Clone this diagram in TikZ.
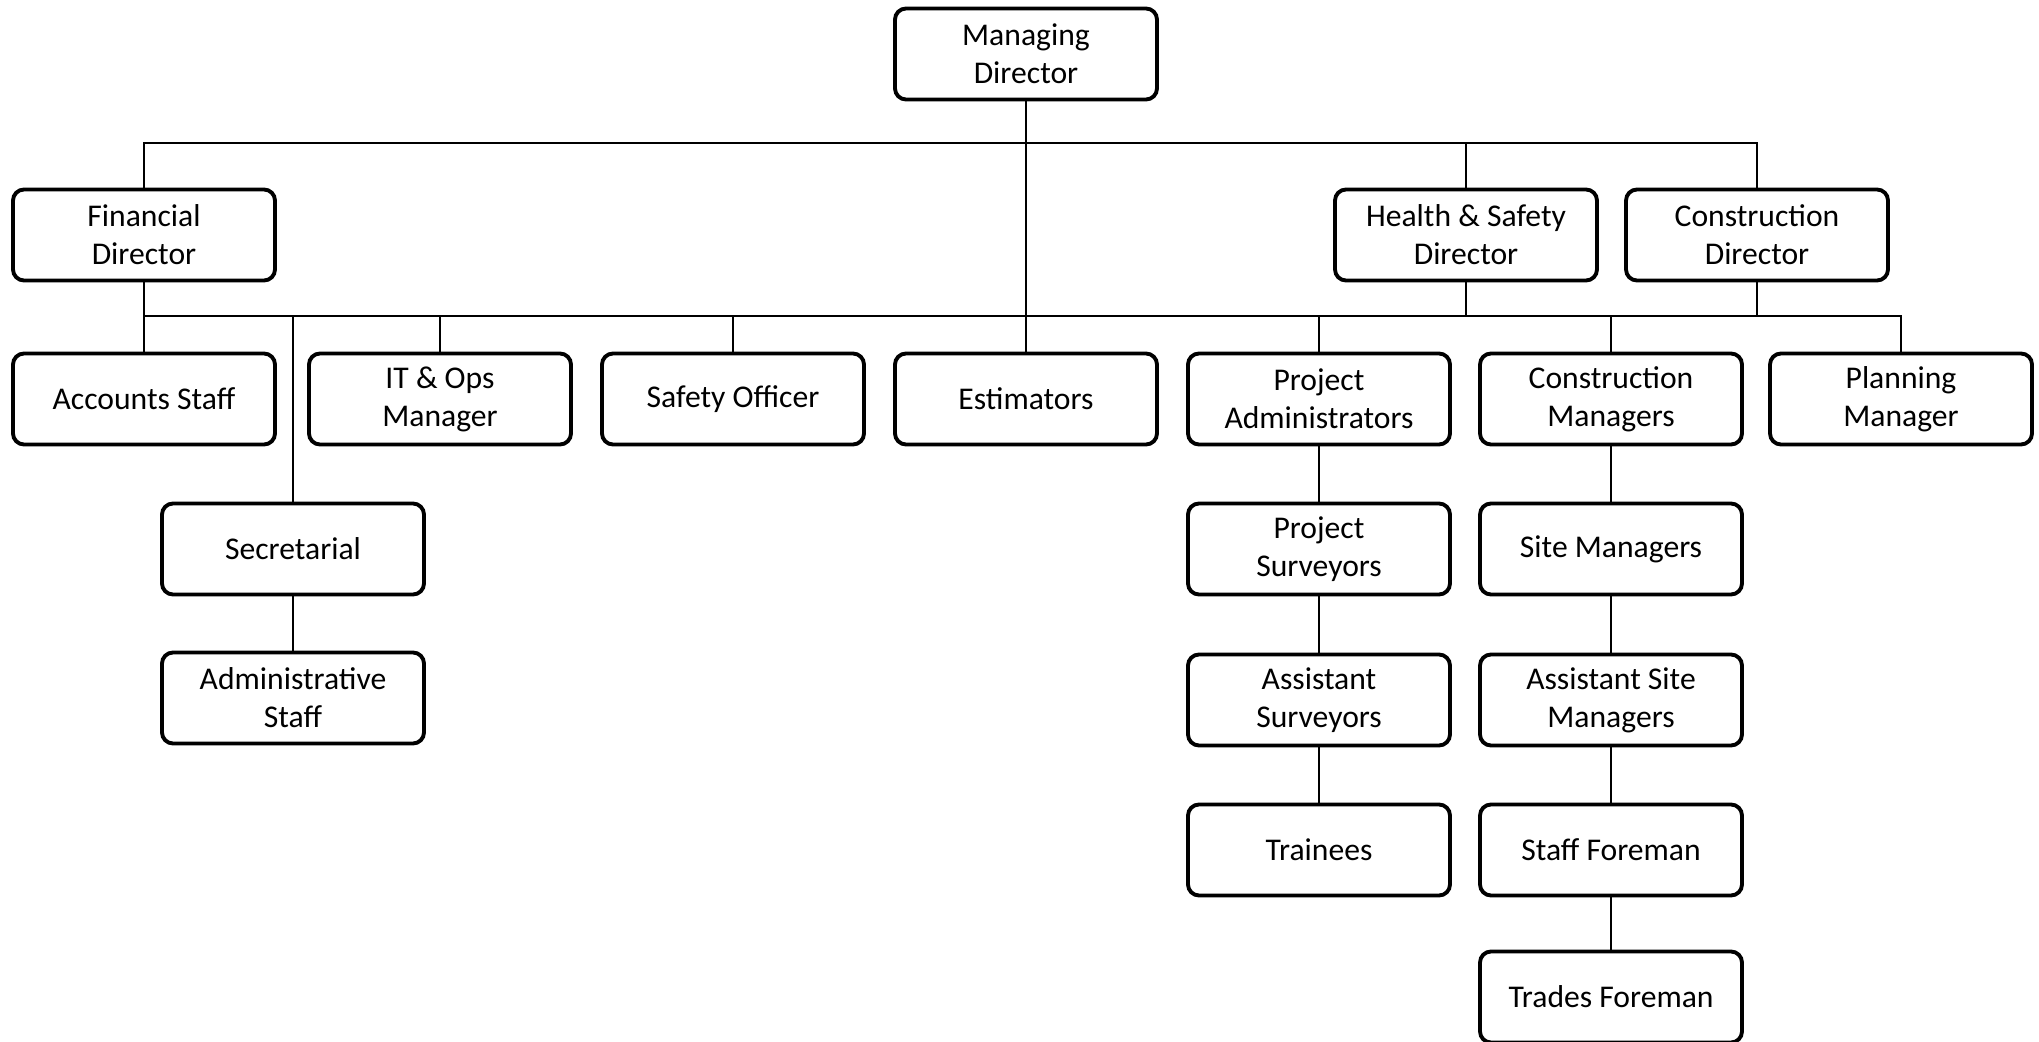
\documentclass[tikz,border=0pt]{standalone}
\usepackage{fontspec}
\setmainfont{Carlito}
\usepackage{tikz}

\tikzset{
  post/.style={draw, line width=1.1pt, rounded corners=1.1mm, fill=white,
    minimum width=2.62cm, minimum height=0.91cm, align=center,
    font=\fontsize{9}{10.8}\selectfont},
  link/.style={line width=0.6pt}
}

\begin{document}
\begin{tikzpicture}[x=0.1mm, y=-0.1mm]
  \useasboundingbox (0,0) rectangle (2039,1042);

  % directors
  \node[post] (md) at (1026,54) {Managing\\Director};
  \node[post] (fd) at (144,235) {Financial\\Director};
  \node[post] (hsd) at (1466,235) {Health \& Safety\\Director};
  \node[post] (cd) at (1757,235) {Construction\\Director};

  % managers and staff
  \node[post] (acc) at (144,399) {Accounts Staff};
  \node[post] (itops) at (440,399) {IT \& Ops\\Manager};
  \node[post] (safety) at (733,399) {Safety Officer};
  \node[post] (est) at (1026,399) {Estimators};
  \node[post] (padmin) at (1319,399) {Project\\Administrators};
  \node[post] (cman) at (1611,399) {Construction\\Managers};
  \node[post] (plan) at (1901,399) {Planning\\Manager};

  \node[post] (sec) at (293,549) {Secretarial};
  \node[post] (admin) at (293,698) {Administrative\\Staff};

  \node[post] (psurv) at (1319,549) {Project\\Surveyors};
  \node[post] (asurv) at (1319,700) {Assistant\\Surveyors};
  \node[post] (train) at (1319,850) {Trainees};

  \node[post] (site) at (1611,549) {Site Managers};
  \node[post] (asite) at (1611,700) {Assistant Site\\Managers};
  \node[post] (sfore) at (1611,850) {Staff Foreman};
  \node[post] (tfore) at (1611,997) {Trades Foreman};

  % buses
  \coordinate (topbus) at (0,143);
  \coordinate (midbus) at (0,316);

  \draw[link] (md) -- (est);
  \draw[link] (fd.north) -- (fd.north |- topbus) -| (cd.north);
  \draw[link] (hsd.north) -- (hsd.north |- topbus);

  \draw[link] (fd.south) -- (fd.south |- midbus) -| (plan.north);
  \draw[link] (hsd.south) -- (hsd.south |- midbus);
  \draw[link] (cd.south) -- (cd.south |- midbus);
  \foreach \n in {acc,itops,safety,padmin,cman,sec}
    \draw[link] (\n.north) -- (\n.north |- midbus);

  % chains
  \draw[link] (sec) -- (admin);
  \draw[link] (padmin) -- (psurv) -- (asurv) -- (train);
  \draw[link] (cman) -- (site) -- (asite) -- (sfore) -- (tfore);
\end{tikzpicture}
\end{document}
